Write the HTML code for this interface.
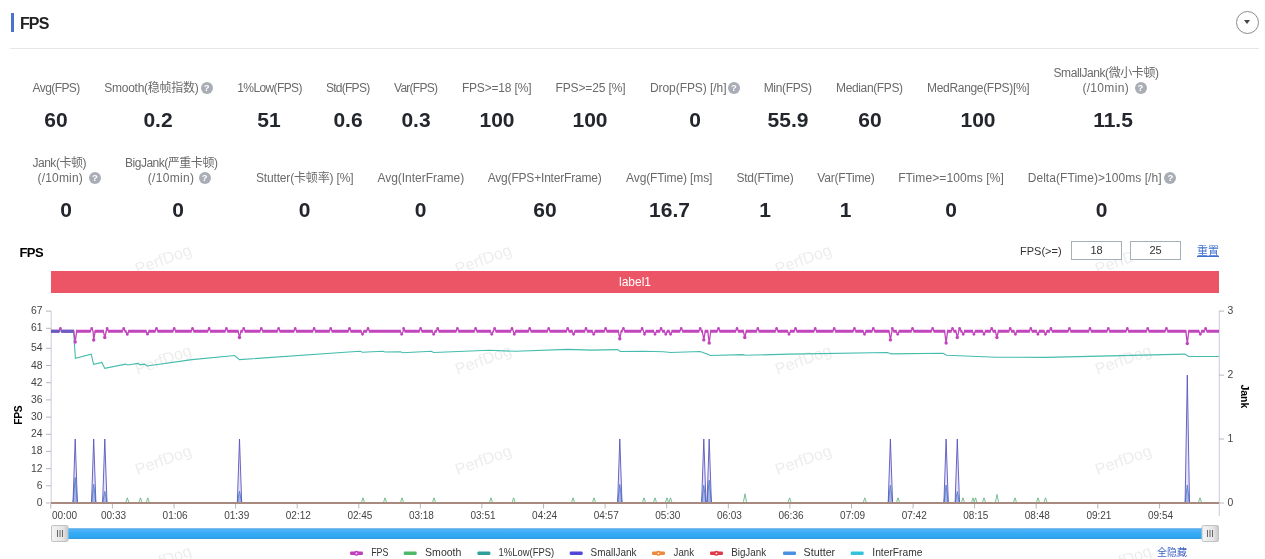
<!DOCTYPE html>
<html lang="zh-CN"><head><meta charset="utf-8"><title>FPS</title>
<style>
html,body{margin:0;padding:0;background:#fff;}
body{width:1265px;height:559px;overflow:hidden;position:relative;font-family:"Liberation Sans","Noto Sans CJK SC",sans-serif;color:#666;}
.bar{position:absolute;left:11px;top:13px;width:3px;height:19px;background:#4a74c8;}
.title{position:absolute;left:20px;top:14.3px;font-size:16px;line-height:19px;font-weight:bold;color:#222;letter-spacing:-0.9px;}
.dd{position:absolute;left:1236px;top:10.5px;width:21px;height:21px;border:1px solid #8c8c8c;border-radius:50%;}
.dd:after{content:"";position:absolute;left:6.6px;top:8.6px;border:3.9px solid transparent;border-top:4.2px solid #444;border-bottom:0;}
.hr{position:absolute;left:10px;top:48px;width:1249px;height:1px;background:#e6e6e6;}
.st{position:absolute;transform:translateX(-50%);white-space:nowrap;text-align:center;}
.lb{position:absolute;white-space:nowrap;font-size:12px;line-height:16px;color:#6a6a6a;}
.vv{font-size:21px;line-height:24px;font-weight:bold;color:#24262e;margin-top:-0.5px;}
.q{position:absolute;width:12px;height:12px;border-radius:50%;background:#a9adb6;color:#fff;font-weight:bold;font-size:9.5px;line-height:12.5px;text-align:center;}
.ct{position:absolute;left:19.5px;top:244.6px;font-size:13px;line-height:16px;font-weight:bold;color:#000;letter-spacing:-0.6px;}
.fl{position:absolute;left:1020px;top:243px;font-size:11px;line-height:16px;color:#333;}
.in{position:absolute;top:241px;width:49px;height:17px;border:1px solid #a3b1b5;z-index:3;font-size:11px;line-height:17px;text-align:center;color:#333;background:#fff;}
.rs{position:absolute;left:1197px;top:243px;font-size:11px;line-height:16px;color:#3d6fd0;text-decoration:underline;}
.label1{position:absolute;left:51px;top:271.2px;width:1168px;height:21.5px;background:#ec5565;color:#fff;font-size:12px;line-height:23.6px;text-align:center;overflow:hidden;}
svg{position:absolute;left:0;top:0;}
.ax{stroke:#b6b8c0;stroke-width:1;}
.axl{stroke:#d2d5de;stroke-width:1.2;}
.tk{font-size:10.4px;fill:#444;}
.tx{font-size:10px;fill:#444;}
.wm{font-size:16px;fill:#ededed;}
.lg{font-size:11px;fill:#333;}
.ha{position:absolute;left:1157px;top:546px;font-size:10px;line-height:14px;color:#3f62c8;}
</style></head><body>
<div class="bar"></div><div class="title">FPS</div><div class="dd"></div><div class="hr"></div>
<span class="lb" style="left:32.5px;top:80.0px;letter-spacing:-0.571px">Avg(FPS)</span>
<span class="lb" style="left:104.3px;top:80.0px;letter-spacing:-0.269px">Smooth(稳帧指数)</span>
<span class="lb" style="left:237.3px;top:80.0px;letter-spacing:-0.621px">1%Low(FPS)</span>
<span class="lb" style="left:325.9px;top:80.0px;letter-spacing:-0.721px">Std(FPS)</span>
<span class="lb" style="left:394.1px;top:80.0px;letter-spacing:-0.761px">Var(FPS)</span>
<span class="lb" style="left:461.9px;top:80.0px;letter-spacing:-0.177px">FPS&gt;=18 [%]</span>
<span class="lb" style="left:555.5px;top:80.0px;letter-spacing:-0.127px">FPS&gt;=25 [%]</span>
<span class="lb" style="left:649.9px;top:80.0px;letter-spacing:-0.051px">Drop(FPS) [/h]</span>
<span class="lb" style="left:763.7px;top:80.0px;letter-spacing:-0.339px">Min(FPS)</span>
<span class="lb" style="left:836.0px;top:80.0px;letter-spacing:-0.359px">Median(FPS)</span>
<span class="lb" style="left:927.1px;top:80.0px;letter-spacing:-0.325px">MedRange(FPS)[%]</span>
<span class="lb" style="left:1053.5px;top:65.0px;letter-spacing:-0.419px">SmallJank(微小卡顿)</span>
<span class="lb" style="left:1082.4px;top:80.0px;letter-spacing:0.326px">(/10min)</span>
<span class="lb" style="left:32.5px;top:154.5px;letter-spacing:-0.492px">Jank(卡顿)</span>
<span class="lb" style="left:37.5px;top:169.5px;letter-spacing:0.183px">(/10min)</span>
<span class="lb" style="left:125.0px;top:154.5px;letter-spacing:-0.482px">BigJank(严重卡顿)</span>
<span class="lb" style="left:147.8px;top:169.5px;letter-spacing:0.326px">(/10min)</span>
<span class="lb" style="left:256.0px;top:169.5px;letter-spacing:-0.168px">Stutter(卡顿率) [%]</span>
<span class="lb" style="left:377.4px;top:169.5px;letter-spacing:-0.024px">Avg(InterFrame)</span>
<span class="lb" style="left:487.7px;top:169.5px;letter-spacing:-0.188px">Avg(FPS+InterFrame)</span>
<span class="lb" style="left:626.1px;top:169.5px;letter-spacing:-0.123px">Avg(FTime) [ms]</span>
<span class="lb" style="left:736.4px;top:169.5px;letter-spacing:-0.240px">Std(FTime)</span>
<span class="lb" style="left:817.3px;top:169.5px;letter-spacing:-0.203px">Var(FTime)</span>
<span class="lb" style="left:898.2px;top:169.5px;letter-spacing:0.089px">FTime&gt;=100ms [%]</span>
<span class="lb" style="left:1027.7px;top:169.5px;letter-spacing:0.059px">Delta(FTime)&gt;100ms [/h]</span>
<span class="q" style="left:200.7px;top:81.5px">?</span><span class="q" style="left:727.8px;top:81.5px">?</span><span class="q" style="left:1134.5px;top:81.5px">?</span><span class="q" style="left:88.9px;top:171.5px">?</span><span class="q" style="left:198.6px;top:171.5px">?</span><span class="q" style="left:1164.3px;top:171.5px">?</span><div class="st vv" style="left:56px;top:108px">60</div><div class="st vv" style="left:158px;top:108px">0.2</div><div class="st vv" style="left:269px;top:108px">51</div><div class="st vv" style="left:348px;top:108px">0.6</div><div class="st vv" style="left:416px;top:108px">0.3</div><div class="st vv" style="left:497px;top:108px">100</div><div class="st vv" style="left:590px;top:108px">100</div><div class="st vv" style="left:695px;top:108px">0</div><div class="st vv" style="left:788px;top:108px">55.9</div><div class="st vv" style="left:870px;top:108px">60</div><div class="st vv" style="left:978px;top:108px">100</div><div class="st vv" style="left:1113px;top:108px">11.5</div><div class="st vv" style="left:66px;top:198px">0</div><div class="st vv" style="left:178px;top:198px">0</div><div class="st vv" style="left:304.5px;top:198px">0</div><div class="st vv" style="left:420.5px;top:198px">0</div><div class="st vv" style="left:545px;top:198px">60</div><div class="st vv" style="left:669.5px;top:198px">16.7</div><div class="st vv" style="left:765px;top:198px">1</div><div class="st vv" style="left:845.5px;top:198px">1</div><div class="st vv" style="left:951px;top:198px">0</div><div class="st vv" style="left:1101.5px;top:198px">0</div>
<div class="ct">FPS</div>
<div class="fl">FPS(&gt;=)</div><div class="in" style="left:1071px">18</div><div class="in" style="left:1130px">25</div><div class="rs">重置</div>
<svg width="1265" height="559" viewBox="0 0 1265 559" font-family="Liberation Sans, Noto Sans CJK SC, sans-serif">
<g><text x="165" y="264.5" transform="rotate(-20 165 264.5)" text-anchor="middle" class="wm">PerfDog</text><text x="165" y="364.8" transform="rotate(-20 165 364.8)" text-anchor="middle" class="wm">PerfDog</text><text x="165" y="465.1" transform="rotate(-20 165 465.1)" text-anchor="middle" class="wm">PerfDog</text><text x="165" y="565.4" transform="rotate(-20 165 565.4)" text-anchor="middle" class="wm">PerfDog</text><text x="485" y="264.5" transform="rotate(-20 485 264.5)" text-anchor="middle" class="wm">PerfDog</text><text x="485" y="364.8" transform="rotate(-20 485 364.8)" text-anchor="middle" class="wm">PerfDog</text><text x="485" y="465.1" transform="rotate(-20 485 465.1)" text-anchor="middle" class="wm">PerfDog</text><text x="805" y="264.5" transform="rotate(-20 805 264.5)" text-anchor="middle" class="wm">PerfDog</text><text x="805" y="364.8" transform="rotate(-20 805 364.8)" text-anchor="middle" class="wm">PerfDog</text><text x="805" y="465.1" transform="rotate(-20 805 465.1)" text-anchor="middle" class="wm">PerfDog</text><text x="1125" y="264.5" transform="rotate(-20 1125 264.5)" text-anchor="middle" class="wm">PerfDog</text><text x="1125" y="364.8" transform="rotate(-20 1125 364.8)" text-anchor="middle" class="wm">PerfDog</text><text x="1125" y="465.1" transform="rotate(-20 1125 465.1)" text-anchor="middle" class="wm">PerfDog</text><text x="1125" y="565.4" transform="rotate(-20 1125 565.4)" text-anchor="middle" class="wm">PerfDog</text></g>
<line x1="51.2" y1="311" x2="51.2" y2="504" class="axl"/>
<line x1="1219.3" y1="311" x2="1219.3" y2="516" class="axl"/>
<line x1="46" y1="311.1" x2="51" y2="311.1" class="ax"/><text x="42.6" y="314.1" text-anchor="end" class="tk">67</text><line x1="46" y1="328.3" x2="51" y2="328.3" class="ax"/><text x="42.6" y="331.3" text-anchor="end" class="tk">61</text><line x1="46" y1="348.3" x2="51" y2="348.3" class="ax"/><text x="42.6" y="351.3" text-anchor="end" class="tk">54</text><line x1="46" y1="365.5" x2="51" y2="365.5" class="ax"/><text x="42.6" y="368.5" text-anchor="end" class="tk">48</text><line x1="46" y1="382.7" x2="51" y2="382.7" class="ax"/><text x="42.6" y="385.7" text-anchor="end" class="tk">42</text><line x1="46" y1="399.9" x2="51" y2="399.9" class="ax"/><text x="42.6" y="402.9" text-anchor="end" class="tk">36</text><line x1="46" y1="417.1" x2="51" y2="417.1" class="ax"/><text x="42.6" y="420.1" text-anchor="end" class="tk">30</text><line x1="46" y1="434.3" x2="51" y2="434.3" class="ax"/><text x="42.6" y="437.3" text-anchor="end" class="tk">24</text><line x1="46" y1="451.4" x2="51" y2="451.4" class="ax"/><text x="42.6" y="454.4" text-anchor="end" class="tk">18</text><line x1="46" y1="468.6" x2="51" y2="468.6" class="ax"/><text x="42.6" y="471.6" text-anchor="end" class="tk">12</text><line x1="46" y1="485.8" x2="51" y2="485.8" class="ax"/><text x="42.6" y="488.8" text-anchor="end" class="tk">6</text><line x1="46" y1="503.0" x2="51" y2="503.0" class="ax"/><text x="42.6" y="506.0" text-anchor="end" class="tk">0</text><line x1="1219" y1="503.0" x2="1224" y2="503.0" class="ax"/><text x="1227.6" y="505.5" class="tk">0</text><line x1="1219" y1="439.0" x2="1224" y2="439.0" class="ax"/><text x="1227.6" y="441.5" class="tk">1</text><line x1="1219" y1="375.1" x2="1224" y2="375.1" class="ax"/><text x="1227.6" y="377.6" class="tk">2</text><line x1="1219" y1="311.1" x2="1224" y2="311.1" class="ax"/><text x="1227.6" y="313.6" class="tk">3</text><line x1="50.8" y1="504" x2="50.8" y2="508.5" class="ax"/><text x="52" y="519" class="tx">00:00</text><line x1="112.4" y1="504" x2="112.4" y2="508.5" class="ax"/><text x="113.5" y="519" text-anchor="middle" class="tx">00:33</text><line x1="174.0" y1="504" x2="174.0" y2="508.5" class="ax"/><text x="175.1" y="519" text-anchor="middle" class="tx">01:06</text><line x1="235.6" y1="504" x2="235.6" y2="508.5" class="ax"/><text x="236.7" y="519" text-anchor="middle" class="tx">01:39</text><line x1="297.2" y1="504" x2="297.2" y2="508.5" class="ax"/><text x="298.3" y="519" text-anchor="middle" class="tx">02:12</text><line x1="358.8" y1="504" x2="358.8" y2="508.5" class="ax"/><text x="359.9" y="519" text-anchor="middle" class="tx">02:45</text><line x1="420.3" y1="504" x2="420.3" y2="508.5" class="ax"/><text x="421.4" y="519" text-anchor="middle" class="tx">03:18</text><line x1="481.9" y1="504" x2="481.9" y2="508.5" class="ax"/><text x="483.0" y="519" text-anchor="middle" class="tx">03:51</text><line x1="543.5" y1="504" x2="543.5" y2="508.5" class="ax"/><text x="544.6" y="519" text-anchor="middle" class="tx">04:24</text><line x1="605.1" y1="504" x2="605.1" y2="508.5" class="ax"/><text x="606.2" y="519" text-anchor="middle" class="tx">04:57</text><line x1="666.7" y1="504" x2="666.7" y2="508.5" class="ax"/><text x="667.8" y="519" text-anchor="middle" class="tx">05:30</text><line x1="728.3" y1="504" x2="728.3" y2="508.5" class="ax"/><text x="729.4" y="519" text-anchor="middle" class="tx">06:03</text><line x1="789.9" y1="504" x2="789.9" y2="508.5" class="ax"/><text x="791.0" y="519" text-anchor="middle" class="tx">06:36</text><line x1="851.5" y1="504" x2="851.5" y2="508.5" class="ax"/><text x="852.6" y="519" text-anchor="middle" class="tx">07:09</text><line x1="913.1" y1="504" x2="913.1" y2="508.5" class="ax"/><text x="914.2" y="519" text-anchor="middle" class="tx">07:42</text><line x1="974.6" y1="504" x2="974.6" y2="508.5" class="ax"/><text x="975.8" y="519" text-anchor="middle" class="tx">08:15</text><line x1="1036.2" y1="504" x2="1036.2" y2="508.5" class="ax"/><text x="1037.3" y="519" text-anchor="middle" class="tx">08:48</text><line x1="1097.8" y1="504" x2="1097.8" y2="508.5" class="ax"/><text x="1098.9" y="519" text-anchor="middle" class="tx">09:21</text><line x1="1159.4" y1="504" x2="1159.4" y2="508.5" class="ax"/><text x="1160.5" y="519" text-anchor="middle" class="tx">09:54</text>
<text transform="translate(22.2 415.3) rotate(-90)" text-anchor="middle" letter-spacing="-0.4" font-size="10.3" font-weight="bold" fill="#000">FPS</text>
<text transform="translate(1241.2 396.4) rotate(90)" text-anchor="middle" font-size="10.5" font-weight="bold" fill="#000">Jank</text>
<path d="M50.9 331.1 L73.5 331.1 L75.4 358.4 L91.2 354.1 L93.6 364.3 L101.9 362.4 L104.8 368.4 L125.6 364.1 L127.5 365.0 L138.0 363.4 L139.9 364.8 L144.6 364.1 L147.0 366.0 L192.0 359.6 L234.7 355.5 L239.4 359.6 L345.0 352.2 L360.0 351.3 L362.5 352.2 L382.7 351.3 L385.0 352.0 L400.5 351.8 L402.8 352.7 L431.3 351.3 L433.7 352.5 L489.4 350.3 L515.5 351.3 L567.7 349.4 L591.4 350.1 L617.5 349.6 L620.3 351.5 L642.0 351.3 L654.0 351.5 L663.5 351.8 L670.6 352.5 L700.2 351.5 L704.2 352.9 L707.3 354.1 L710.4 355.5 L742.9 354.6 L745.3 355.3 L789.1 354.1 L887.5 352.5 L891.1 353.9 L943.0 353.2 L946.6 355.3 L996.4 357.2 L1046.0 357.4 L1184.9 354.1 L1188.5 356.5 L1218.8 356.5" fill="none" stroke="#45bcae" stroke-width="1.1"/>
<path d="M51.0 503.0 L125.6 503.0 L127.3 497.8 L129.0 503.0 L138.8 503.0 L140.5 497.8 L142.2 503.0 L146.1 503.0 L147.8 497.8 L149.5 503.0 L361.3 503.0 L363.0 497.8 L364.7 503.0 L383.3 503.0 L385.0 497.8 L386.7 503.0 L400.3 503.0 L402.0 497.8 L403.7 503.0 L432.3 503.0 L434.0 497.8 L435.7 503.0 L489.3 503.0 L491.0 497.8 L492.7 503.0 L511.9 503.0 L513.6 497.8 L515.3 503.0 L571.3 503.0 L573.0 497.8 L574.7 503.0 L592.3 503.0 L594.0 497.8 L595.7 503.0 L642.3 503.0 L644.0 497.8 L645.7 503.0 L653.3 503.0 L655.0 497.8 L656.7 503.0 L665.3 503.0 L667.0 497.8 L668.7 503.0 L668.8 503.0 L670.5 497.8 L672.2 503.0 L743.3 503.0 L745.0 493.8 L746.7 503.0 L787.9 503.0 L789.6 497.8 L791.3 503.0 L863.1 503.0 L864.8 497.8 L866.5 503.0 L896.3 503.0 L898.0 497.8 L899.7 503.0 L961.3 503.0 L963.0 497.8 L964.7 503.0 L971.3 503.0 L973.0 497.8 L974.7 503.0 L973.8 503.0 L975.5 497.8 L977.2 503.0 L982.3 503.0 L984.0 497.8 L985.7 503.0 L995.3 503.0 L997.0 494.4 L998.7 503.0 L1013.3 503.0 L1015.0 497.8 L1016.7 503.0 L1036.3 503.0 L1038.0 497.8 L1039.7 503.0 L1043.8 503.0 L1045.5 497.8 L1047.2 503.0 L1198.3 503.0 L1200.0 497.8 L1201.7 503.0 L1219.0 503.0" fill="none" stroke="#62b47e" stroke-width="0.85"/>
<path d="M51.0 503.0 L73.0 503.0 L75.2 477.5 L77.4 503.0 L91.5 503.0 L93.7 484.4 L95.9 503.0 L102.6 503.0 L104.8 491.3 L107.0 503.0 L237.3 503.0 L239.5 491.0 L241.7 503.0 L617.6 503.0 L619.8 484.4 L622.0 503.0 L701.6 503.0 L703.8 485.2 L706.0 503.0 L707.0 503.0 L709.2 480.1 L711.4 503.0 L888.2 503.0 L890.4 485.2 L892.6 503.0 L943.9 503.0 L946.1 485.0 L948.3 503.0 L955.1 503.0 L957.3 491.5 L959.5 503.0 L1185.1 503.0 L1187.3 485.0 L1189.5 503.0 L1219.0 503.0" fill="#5a94d0" fill-opacity="0.5" stroke="#4f88c6" stroke-width="0.9"/>
<path d="M51.0 503.0 L73.0 503.0 L75.2 439.0 L77.4 503.0 L91.5 503.0 L93.7 439.0 L95.9 503.0 L102.6 503.0 L104.8 439.0 L107.0 503.0 L237.3 503.0 L239.5 439.0 L241.7 503.0 L617.6 503.0 L619.8 439.0 L622.0 503.0 L701.6 503.0 L703.8 439.0 L706.0 503.0 L707.0 503.0 L709.2 439.0 L711.4 503.0 L888.2 503.0 L890.4 439.0 L892.6 503.0 L943.9 503.0 L946.1 439.0 L948.3 503.0 L955.1 503.0 L957.3 439.0 L959.5 503.0 L1185.1 503.0 L1187.3 375.1 L1189.5 503.0 L1219.0 503.0" fill="#7a74e0" fill-opacity="0.2" stroke="#5a55bc" stroke-width="0.9"/>
<line x1="51" y1="503" x2="1219" y2="503" stroke="#a88a80" stroke-width="2"/>
<path d="M51.0 331.2 L59.0 331.2 L60.4 328.4 L61.8 331.2 L73.7 331.2 L75.2 342.0 L76.7 331.2 L90.3 331.2 L91.7 328.4 L93.1 331.2 L93.7 340.0 L95.2 331.2 L103.3 331.2 L104.8 337.5 L106.3 331.2 L107.1 328.4 L108.5 331.2 L122.3 331.2 L123.7 328.4 L125.1 331.2 L125.8 331.2 L127.3 334.4 L128.8 331.2 L146.0 331.2 L147.5 334.2 L149.0 331.2 L155.1 331.2 L156.5 328.4 L157.9 331.2 L172.8 331.2 L174.2 328.4 L175.6 331.2 L191.1 331.2 L192.5 328.4 L193.9 331.2 L207.7 331.2 L209.1 328.4 L210.5 331.2 L225.0 331.2 L226.4 328.4 L227.8 331.2 L238.0 331.2 L239.5 337.5 L241.0 331.2 L242.3 331.2 L243.7 328.4 L245.1 331.2 L259.9 331.2 L261.3 328.4 L262.7 331.2 L277.2 331.2 L278.6 328.4 L280.0 331.2 L293.8 331.2 L295.2 328.4 L296.6 331.2 L312.7 331.2 L314.1 328.4 L315.5 331.2 L329.3 331.2 L330.7 328.4 L332.1 331.2 L348.1 331.2 L349.5 328.4 L350.9 331.2 L361.0 331.2 L362.5 334.3 L364.0 331.2 L366.6 331.2 L368.0 328.4 L369.4 331.2 L400.2 331.2 L401.7 334.3 L403.2 331.2 L403.6 328.4 L405.0 331.2 L419.2 331.2 L420.6 328.4 L422.0 331.2 L432.2 331.2 L433.7 334.3 L435.2 331.2 L436.3 331.2 L437.7 328.4 L439.1 331.2 L456.0 331.2 L457.4 328.4 L458.8 331.2 L474.2 331.2 L475.6 328.4 L477.0 331.2 L490.3 331.2 L491.8 334.3 L493.3 331.2 L494.6 328.4 L496.0 331.2 L510.6 331.2 L512.0 328.4 L513.4 331.2 L514.3 334.3 L515.8 331.2 L528.3 331.2 L529.7 328.4 L531.1 331.2 L547.3 331.2 L548.7 328.4 L550.1 331.2 L566.3 331.2 L567.7 328.4 L569.1 331.2 L572.1 331.2 L573.6 334.3 L575.1 331.2 L584.6 331.2 L586.0 328.4 L587.4 331.2 L592.2 331.2 L593.7 334.3 L595.2 331.2 L604.2 331.2 L605.6 328.4 L607.0 331.2 L618.3 331.2 L619.8 338.7 L621.3 331.2 L622.0 331.2 L623.4 328.4 L624.8 331.2 L640.7 331.2 L642.1 328.4 L643.5 331.2 L644.5 334.3 L646.0 331.2 L653.5 331.2 L655.0 334.3 L656.5 331.2 L659.7 331.2 L661.1 328.4 L662.5 331.2 L664.3 331.2 L665.8 334.3 L667.3 331.2 L669.1 331.2 L670.6 334.3 L672.1 331.2 L679.8 331.2 L681.2 328.4 L682.6 331.2 L698.8 331.2 L700.2 328.4 L701.6 331.2 L702.3 331.2 L703.8 339.9 L705.3 331.2 L707.7 331.2 L709.2 343.0 L710.7 331.2 L717.1 331.2 L718.5 328.4 L719.9 331.2 L735.6 331.2 L737.0 328.4 L738.4 331.2 L743.3 331.2 L744.8 337.5 L746.3 331.2 L756.4 331.2 L757.8 328.4 L759.2 331.2 L775.2 331.2 L776.6 328.4 L778.0 331.2 L787.5 331.2 L789.0 334.3 L790.5 331.2 L794.1 331.2 L795.5 328.4 L796.9 331.2 L813.8 331.2 L815.2 328.4 L816.6 331.2 L832.8 331.2 L834.2 328.4 L835.6 331.2 L853.0 331.2 L854.4 328.4 L855.8 331.2 L863.0 331.2 L864.5 334.3 L866.0 331.2 L871.9 331.2 L873.3 328.4 L874.7 331.2 L888.9 331.2 L890.4 339.9 L891.9 331.2 L892.3 328.4 L893.7 331.2 L896.2 331.2 L897.7 334.3 L899.2 331.2 L911.1 331.2 L912.5 328.4 L913.9 331.2 L931.2 331.2 L932.6 328.4 L934.0 331.2 L944.6 331.2 L946.1 343.0 L947.6 331.2 L951.1 331.2 L952.5 328.4 L953.9 331.2 L955.8 331.2 L957.3 337.5 L958.8 331.2 L959.6 328.4 L961.0 331.2 L961.7 331.2 L963.2 334.3 L964.7 331.2 L972.4 331.2 L973.9 334.3 L975.4 331.2 L982.5 331.2 L984.0 334.3 L985.5 331.2 L990.3 331.2 L991.7 328.4 L993.1 331.2 L995.4 331.2 L996.9 337.5 L998.4 331.2 L1008.8 331.2 L1010.2 328.4 L1011.6 331.2 L1013.9 331.2 L1015.4 334.3 L1016.9 331.2 L1029.4 331.2 L1030.8 328.4 L1032.2 331.2 L1036.4 331.2 L1037.9 334.3 L1039.4 331.2 L1044.0 331.2 L1045.5 334.3 L1047.0 331.2 L1049.5 331.2 L1050.9 328.4 L1052.3 331.2 L1068.0 331.2 L1069.4 328.4 L1070.8 331.2 L1088.6 331.2 L1090.0 328.4 L1091.4 331.2 L1106.9 331.2 L1108.3 328.4 L1109.7 331.2 L1125.9 331.2 L1127.3 328.4 L1128.7 331.2 L1146.3 331.2 L1147.7 328.4 L1149.1 331.2 L1165.0 331.2 L1166.4 328.4 L1167.8 331.2 L1185.8 331.2 L1187.3 343.5 L1188.8 331.2 L1198.8 331.2 L1200.3 334.3 L1201.8 331.2 L1204.2 331.2 L1205.6 328.4 L1207.0 331.2 L1219.0 331.2" fill="none" stroke="#c145bd" stroke-width="1.3" stroke-linejoin="round"/>
<path d="M51.0 331.2H59.5M61.3 331.2H74.3M76.1 331.2H90.8M92.6 331.2H92.8M94.6 331.2H103.9M105.7 331.2H106.2M108.0 331.2H122.8M124.6 331.2H126.4M128.2 331.2H146.6M148.4 331.2H155.6M157.4 331.2H173.3M175.1 331.2H191.6M193.4 331.2H208.2M210.0 331.2H225.5M227.3 331.2H238.6M240.4 331.2H242.8M244.6 331.2H260.4M262.2 331.2H277.7M279.5 331.2H294.3M296.1 331.2H313.2M315.0 331.2H329.8M331.6 331.2H348.6M350.4 331.2H361.6M363.4 331.2H367.1M368.9 331.2H400.8M402.6 331.2H402.7M404.5 331.2H419.7M421.5 331.2H432.8M434.6 331.2H436.8M438.6 331.2H456.5M458.3 331.2H474.7M476.5 331.2H490.9M492.7 331.2H493.7M495.5 331.2H511.1M512.9 331.2H513.4M515.2 331.2H528.8M530.6 331.2H547.8M549.6 331.2H566.8M568.6 331.2H572.7M574.5 331.2H585.1M586.9 331.2H592.8M594.6 331.2H604.7M606.5 331.2H618.9M620.7 331.2H622.5M624.3 331.2H641.2M643.0 331.2H643.6M645.4 331.2H654.1M655.9 331.2H660.2M662.0 331.2H664.9M666.7 331.2H669.7M671.5 331.2H680.3M682.1 331.2H699.3M701.1 331.2H702.9M704.7 331.2H708.3M710.1 331.2H717.6M719.4 331.2H736.1M737.9 331.2H743.9M745.7 331.2H756.9M758.7 331.2H775.7M777.5 331.2H788.1M789.9 331.2H794.6M796.4 331.2H814.3M816.1 331.2H833.3M835.1 331.2H853.5M855.3 331.2H863.6M865.4 331.2H872.4M874.2 331.2H889.5M891.3 331.2H891.4M893.2 331.2H896.8M898.6 331.2H911.6M913.4 331.2H931.7M933.5 331.2H945.2M947.0 331.2H951.6M953.4 331.2H956.4M958.2 331.2H958.7M960.5 331.2H962.3M964.1 331.2H973.0M974.8 331.2H983.1M984.9 331.2H990.8M992.6 331.2H996.0M997.8 331.2H1009.3M1011.1 331.2H1014.5M1016.3 331.2H1029.9M1031.7 331.2H1037.0M1038.8 331.2H1044.6M1046.4 331.2H1050.0M1051.8 331.2H1068.5M1070.3 331.2H1089.1M1090.9 331.2H1107.4M1109.2 331.2H1126.4M1128.2 331.2H1146.8M1148.6 331.2H1165.5M1167.3 331.2H1186.4M1188.2 331.2H1199.4M1201.2 331.2H1204.7M1206.5 331.2H1219.0" fill="none" stroke="#c145bd" stroke-width="3.1"/>
<g fill="#c145bd"><circle cx="60.4" cy="328.4" r="1.35"/><circle cx="75.2" cy="342.0" r="1.7"/><circle cx="91.7" cy="328.4" r="1.35"/><circle cx="93.7" cy="340.0" r="1.7"/><circle cx="104.8" cy="337.5" r="1.7"/><circle cx="107.1" cy="328.4" r="1.35"/><circle cx="123.7" cy="328.4" r="1.35"/><circle cx="127.3" cy="334.4" r="1.35"/><circle cx="147.5" cy="334.2" r="1.35"/><circle cx="156.5" cy="328.4" r="1.35"/><circle cx="174.2" cy="328.4" r="1.35"/><circle cx="192.5" cy="328.4" r="1.35"/><circle cx="209.1" cy="328.4" r="1.35"/><circle cx="226.4" cy="328.4" r="1.35"/><circle cx="239.5" cy="337.5" r="1.7"/><circle cx="243.7" cy="328.4" r="1.35"/><circle cx="261.3" cy="328.4" r="1.35"/><circle cx="278.6" cy="328.4" r="1.35"/><circle cx="295.2" cy="328.4" r="1.35"/><circle cx="314.1" cy="328.4" r="1.35"/><circle cx="330.7" cy="328.4" r="1.35"/><circle cx="349.5" cy="328.4" r="1.35"/><circle cx="362.5" cy="334.3" r="1.35"/><circle cx="368.0" cy="328.4" r="1.35"/><circle cx="401.7" cy="334.3" r="1.35"/><circle cx="403.6" cy="328.4" r="1.35"/><circle cx="420.6" cy="328.4" r="1.35"/><circle cx="433.7" cy="334.3" r="1.35"/><circle cx="437.7" cy="328.4" r="1.35"/><circle cx="457.4" cy="328.4" r="1.35"/><circle cx="475.6" cy="328.4" r="1.35"/><circle cx="491.8" cy="334.3" r="1.35"/><circle cx="494.6" cy="328.4" r="1.35"/><circle cx="512.0" cy="328.4" r="1.35"/><circle cx="514.3" cy="334.3" r="1.35"/><circle cx="529.7" cy="328.4" r="1.35"/><circle cx="548.7" cy="328.4" r="1.35"/><circle cx="567.7" cy="328.4" r="1.35"/><circle cx="573.6" cy="334.3" r="1.35"/><circle cx="586.0" cy="328.4" r="1.35"/><circle cx="593.7" cy="334.3" r="1.35"/><circle cx="605.6" cy="328.4" r="1.35"/><circle cx="619.8" cy="338.7" r="1.7"/><circle cx="623.4" cy="328.4" r="1.35"/><circle cx="642.1" cy="328.4" r="1.35"/><circle cx="644.5" cy="334.3" r="1.35"/><circle cx="655.0" cy="334.3" r="1.35"/><circle cx="661.1" cy="328.4" r="1.35"/><circle cx="665.8" cy="334.3" r="1.35"/><circle cx="670.6" cy="334.3" r="1.35"/><circle cx="681.2" cy="328.4" r="1.35"/><circle cx="700.2" cy="328.4" r="1.35"/><circle cx="703.8" cy="339.9" r="1.7"/><circle cx="709.2" cy="343.0" r="1.7"/><circle cx="718.5" cy="328.4" r="1.35"/><circle cx="737.0" cy="328.4" r="1.35"/><circle cx="744.8" cy="337.5" r="1.7"/><circle cx="757.8" cy="328.4" r="1.35"/><circle cx="776.6" cy="328.4" r="1.35"/><circle cx="789.0" cy="334.3" r="1.35"/><circle cx="795.5" cy="328.4" r="1.35"/><circle cx="815.2" cy="328.4" r="1.35"/><circle cx="834.2" cy="328.4" r="1.35"/><circle cx="854.4" cy="328.4" r="1.35"/><circle cx="864.5" cy="334.3" r="1.35"/><circle cx="873.3" cy="328.4" r="1.35"/><circle cx="890.4" cy="339.9" r="1.7"/><circle cx="892.3" cy="328.4" r="1.35"/><circle cx="897.7" cy="334.3" r="1.35"/><circle cx="912.5" cy="328.4" r="1.35"/><circle cx="932.6" cy="328.4" r="1.35"/><circle cx="946.1" cy="343.0" r="1.7"/><circle cx="952.5" cy="328.4" r="1.35"/><circle cx="957.3" cy="337.5" r="1.7"/><circle cx="959.6" cy="328.4" r="1.35"/><circle cx="963.2" cy="334.3" r="1.35"/><circle cx="973.9" cy="334.3" r="1.35"/><circle cx="984.0" cy="334.3" r="1.35"/><circle cx="991.7" cy="328.4" r="1.35"/><circle cx="996.9" cy="337.5" r="1.7"/><circle cx="1010.2" cy="328.4" r="1.35"/><circle cx="1015.4" cy="334.3" r="1.35"/><circle cx="1030.8" cy="328.4" r="1.35"/><circle cx="1037.9" cy="334.3" r="1.35"/><circle cx="1045.5" cy="334.3" r="1.35"/><circle cx="1050.9" cy="328.4" r="1.35"/><circle cx="1069.4" cy="328.4" r="1.35"/><circle cx="1090.0" cy="328.4" r="1.35"/><circle cx="1108.3" cy="328.4" r="1.35"/><circle cx="1127.3" cy="328.4" r="1.35"/><circle cx="1147.7" cy="328.4" r="1.35"/><circle cx="1166.4" cy="328.4" r="1.35"/><circle cx="1187.3" cy="343.5" r="1.7"/><circle cx="1200.3" cy="334.3" r="1.35"/><circle cx="1205.6" cy="328.4" r="1.35"/></g>
<path d="M51 331.2H59.4M61.4 331.2H73.8" stroke="#6a5cc0" stroke-width="3.1"/>
<defs><linearGradient id="sg" x1="0" y1="0" x2="0" y2="1"><stop offset="0" stop-color="#4a9cdc"/><stop offset="0.14" stop-color="#4cb3fa"/><stop offset="0.5" stop-color="#36aaf4"/><stop offset="0.88" stop-color="#2ba6ee"/><stop offset="1" stop-color="#3c97d8"/></linearGradient>
<linearGradient id="hg" x1="0" y1="0" x2="1" y2="0"><stop offset="0" stop-color="#f4f4f4"/><stop offset="0.7" stop-color="#e4e4e6"/><stop offset="1" stop-color="#c8c8cc"/></linearGradient></defs>
<rect x="51" y="528.3" width="1168" height="10.7" fill="url(#sg)"/>
<g><rect x="51.5" y="525.5" width="16.5" height="16" rx="1.5" fill="url(#hg)" stroke="#c2c2c6"/><path d="M57.5 530v7M60 530v7M62.5 530v7" stroke="#666" stroke-width="1"/></g>
<g><rect x="1202" y="525.5" width="16.5" height="16" rx="1.5" fill="url(#hg)" stroke="#c2c2c6"/><path d="M1207.5 530v7M1210 530v7M1212.5 530v7" stroke="#666" stroke-width="1"/></g>
<rect x="350.0" y="551.6" width="13" height="3.4" rx="1.2" fill="#c13fc1"/><circle cx="356.5" cy="553.3" r="1.7" fill="#fff" stroke="#c13fc1" stroke-width="1.6"/><text x="371.2" y="556.1" class="lg" textLength="17.2" lengthAdjust="spacingAndGlyphs">FPS</text><rect x="403.7" y="551.6" width="13" height="3.4" rx="1.2" fill="#4fb869"/><text x="425.1" y="556.1" class="lg" textLength="36.3" lengthAdjust="spacingAndGlyphs">Smooth</text><rect x="477.4" y="551.6" width="13" height="3.4" rx="1.2" fill="#2f9f98"/><text x="498.6" y="556.1" class="lg" textLength="55.6" lengthAdjust="spacingAndGlyphs">1%Low(FPS)</text><rect x="569.7" y="551.6" width="13" height="3.4" rx="1.2" fill="#5048d8"/><text x="590.6" y="556.1" class="lg" textLength="45.8" lengthAdjust="spacingAndGlyphs">SmallJank</text><rect x="652.0" y="551.6" width="13" height="3.4" rx="1.2" fill="#f0883a"/><circle cx="658.5" cy="553.3" r="1.7" fill="#fff" stroke="#f0883a" stroke-width="1.6"/><text x="673.6" y="556.1" class="lg" textLength="20.4" lengthAdjust="spacingAndGlyphs">Jank</text><rect x="710.0" y="551.6" width="13" height="3.4" rx="1.2" fill="#e03a4a"/><circle cx="716.5" cy="553.3" r="1.7" fill="#fff" stroke="#e03a4a" stroke-width="1.6"/><text x="731.2" y="556.1" class="lg" textLength="34.9" lengthAdjust="spacingAndGlyphs">BigJank</text><rect x="783.0" y="551.6" width="13" height="3.4" rx="1.2" fill="#4a90e2"/><text x="803.6" y="556.1" class="lg" textLength="31.6" lengthAdjust="spacingAndGlyphs">Stutter</text><rect x="850.7" y="551.6" width="13" height="3.4" rx="1.2" fill="#35c3dc"/><text x="872.3" y="556.1" class="lg" textLength="50.1" lengthAdjust="spacingAndGlyphs">InterFrame</text>
</svg>
<div class="label1">label1</div>
<div class="ha">全隐藏</div>
</body></html>
